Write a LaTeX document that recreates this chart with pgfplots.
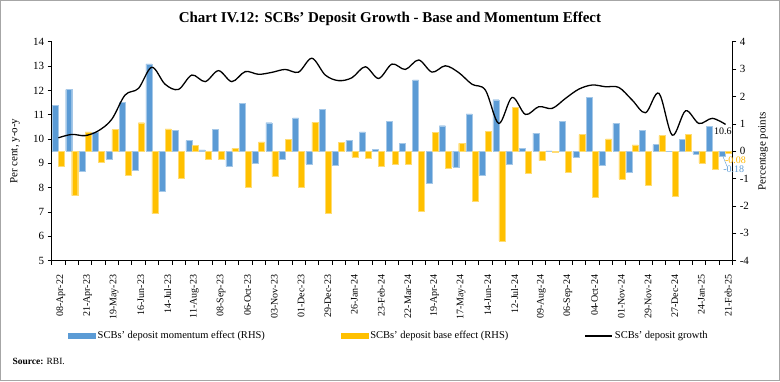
\documentclass[border=0pt]{standalone}
\usepackage{fontspec}
\setmainfont{Liberation Serif}
\usepackage{pgfplots}
\pgfplotsset{compat=1.18}
\usepackage{pgfplotstable}
\definecolor{momblue}{HTML}{5B9BD5}
\definecolor{baseyel}{HTML}{FFC000}
\definecolor{framegray}{HTML}{A6A6A6}

\pgfplotstableread{
i mom base dg
0 1.68 -0.56 10.05
1 2.25 -1.62 10.19
2 -0.73 0.71 10.14
3 0.68 -0.40 10.34
4 -0.30 0.79 10.81
5 1.79 -0.88 11.81
6 -0.71 1.04 12.08
7 3.19 -2.28 12.95
8 -1.46 0.82 12.25
9 0.76 -0.97 12.04
10 0.39 0.21 12.63
11 0.05 -0.29 12.36
12 0.80 -0.30 12.81
13 -0.55 0.10 12.36
14 1.74 -1.32 12.77
15 -0.44 0.34 12.66
16 1.04 -0.93 12.74
17 -0.28 0.43 12.86
18 1.22 -1.32 12.75
19 -0.46 1.05 13.32
20 1.53 -2.25 12.63
21 -0.50 0.32 12.40
22 0.40 -0.22 12.52
23 0.71 -0.24 12.97
24 0.06 -0.54 12.49
25 1.10 -0.46 13.08
26 0.29 -0.49 12.86
27 2.61 -2.20 13.25
28 -1.17 0.68 12.75
29 0.93 -0.63 13.01
30 -0.58 0.29 12.73
31 1.36 -1.83 12.25
32 -0.88 0.72 12.01
33 1.88 -3.28 10.64
34 -0.49 1.60 11.71
35 0.11 -0.80 11.01
36 0.66 -0.34 11.33
37 0.01 -0.05 11.26
38 1.08 -0.76 11.67
39 -0.21 0.61 12.05
40 1.96 -1.68 12.22
41 -0.50 0.45 12.15
42 1.02 -1.01 12.12
43 -0.77 0.23 11.60
44 0.76 -1.25 11.08
45 0.24 0.57 11.88
46 -0.01 -1.66 10.16
47 0.43 0.62 11.16
48 -0.10 -0.43 10.64
49 0.91 -0.66 10.85
50 -0.18 -0.08 10.60
}\data

\pgfplotsset{
  common/.style={
    at={(51.7pt,120.3pt)}, anchor=south west,
    scale only axis, width=680.6pt, height=219pt,
    xmin=-0.5, xmax=50.5, clip=false,
    tick align=outside, major tick length=4pt,
    axis line style={black, line width=0.7pt},
    tick style={black, line width=0.6pt},
    /pgf/number format/assume math mode=true,
    ticklabel style={font=\fontsize{11}{12}\selectfont},
  }
}

\begin{document}
\begin{tikzpicture}
\useasboundingbox (0,0) rectangle (780pt,381pt);
\draw[framegray, line width=1.2pt] (0.8pt,0.8pt) rectangle (779.2pt,380.2pt);
\node[font=\fontsize{15}{17}\selectfont\bfseries] at (390pt,362pt) {Chart IV.12: SCBs' Deposit Growth - Base and Momentum Effect};
\node[anchor=west, font=\fontsize{9.5}{11}\selectfont] at (9pt,19.3pt) {\textbf{Source:} RBI.};

% bars, right axis
\begin{axis}[common,
  ymin=-4, ymax=4, ytick={-4,...,4},
  axis y line*=right, axis x line*=bottom,
  xtick={-0.5,0.5,...,50.5}, xticklabels={},
  extra x ticks={0,2,...,50},
  extra x tick labels={08-Apr-22,21-Apr-23,19-May-23,16-Jun-23,14-Jul-23,11-Aug-23,08-Sep-23,06-Oct-23,03-Nov-23,01-Dec-23,29-Dec-23,26-Jan-24,23-Feb-24,22-Mar-24,19-Apr-24,17-May-24,14-Jun-24,12-Jul-24,09-Aug-24,06-Sep-24,04-Oct-24,01-Nov-24,29-Nov-24,27-Dec-24,24-Jan-25,21-Feb-25},
  extra x tick style={tick style={draw=none}, xticklabel style={rotate=90, anchor=east, inner xsep=10pt, yshift=-2.5pt, font=\fontsize{10}{12}\selectfont}},
  every axis y label/.style={at={(axis description cs:1.0455,0.5)}, anchor=center, rotate=90},
  ylabel={Percentage points},
  label style={font=\fontsize{11}{12}\selectfont},
  legend columns=3,
  legend style={at={(0.4956,-0.3438)}, anchor=center, draw=none, fill=none,
    font=\fontsize{10.5}{12}\selectfont,
    /tikz/every even column/.append style={column sep=74pt}},
]
\addplot[ybar, bar width=6pt, bar shift=-3pt, fill=momblue, draw=momblue!55!white, line width=0.4pt,
  legend image code/.code={\fill[momblue] (0pt,-2.7pt) rectangle (27pt,2.7pt);}]
  table[x=i,y=mom]{\data};
\addlegendentry{SCBs' deposit momentum effect (RHS)}
\addplot[ybar, bar width=6pt, bar shift=3pt, fill=baseyel, draw=baseyel!55!white, line width=0.4pt,
  legend image code/.code={\fill[baseyel] (0pt,-2.7pt) rectangle (27pt,2.7pt);}]
  table[x=i,y=base]{\data};
\addlegendentry{SCBs' deposit base effect (RHS)}
\addlegendimage{black, line width=1.6pt, legend image code/.code={\draw[black, line width=1.6pt] (0pt,0pt) -- (27pt,0pt);}}
\addlegendentry{SCBs' deposit growth}
\draw[momblue, line width=0.4pt] (axis cs:49.8,-0.19) -- (axis cs:50.1,-0.55);
\node[text=baseyel!85!orange, font=\fontsize{10}{12}\selectfont] at (axis cs:50.74,-0.34) {-0.08};
\node[text=momblue, font=\fontsize{10}{12}\selectfont] at (axis cs:50.61,-0.66) {-0.18};
\end{axis}

% line, left axis
\begin{axis}[common,
  ymin=5, ymax=14, ytick={5,...,14},
  axis y line*=left, axis x line=none,
  every axis y label/.style={at={(axis description cs:-0.054,0.5)}, anchor=center, rotate=90},
  ylabel={Per cent, y-o-y},
  label style={font=\fontsize{11}{12}\selectfont},
]
\addplot[black, line width=1.3pt, smooth, tension=0.55, mark=none] table[x=i,y=dg]{\data};
\node[font=\fontsize{10}{12}\selectfont] at (axis cs:49.79,10.34) {10.6};
\end{axis}
\end{tikzpicture}
\end{document}
